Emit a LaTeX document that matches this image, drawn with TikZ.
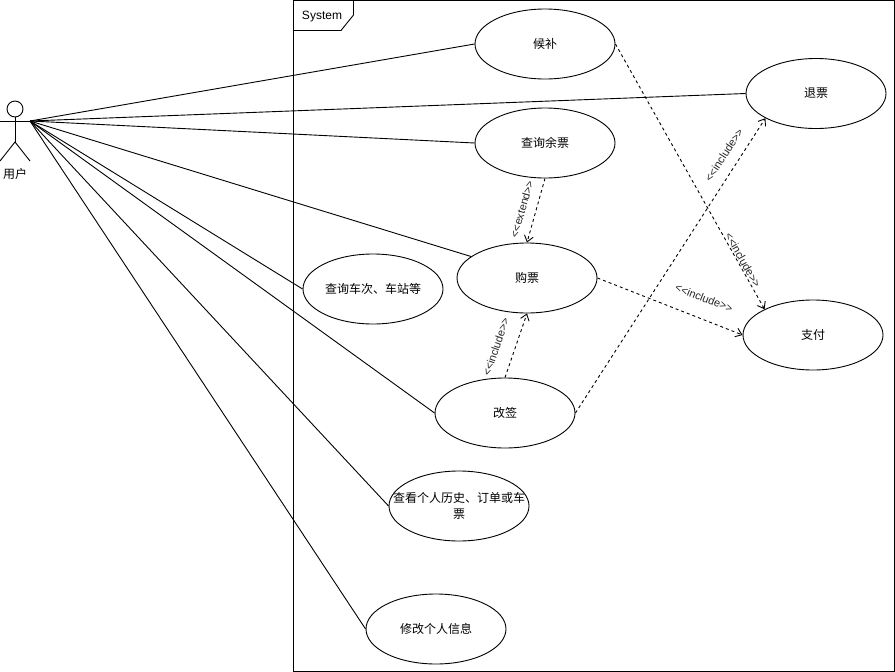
\documentclass[tikz,border=0pt]{standalone}
\usepackage{fontspec}
\setmainfont{Liberation Sans}
\newfontfamily\cjk{Noto Sans CJK SC}
\usetikzlibrary{shapes.geometric,arrows.meta}
\newcommand{\stereo}[1]{<\kern0pt<#1>\kern0pt>}
\tikzset{
  usecase/.style={draw=black,fill=white,ellipse,minimum width=140pt,minimum height=70pt,inner sep=0pt,align=center,line width=0.9pt,font=\fontsize{12}{16}\selectfont\cjk},
  assoc/.style={draw=black,line width=0.9pt},
  dep/.style={draw=black,line width=0.9pt,dash pattern=on 3pt off 3pt,-{Straight Barb[length=6pt,width=9pt]}},
  stereolabel/.style={font=\fontsize{11}{13}\selectfont,text=black!85,inner sep=0pt},
  actorline/.style={draw=black,line width=0.9pt},
}
\begin{document}
\begin{tikzpicture}[x=1pt,y=-1pt]
\useasboundingbox (0,0) rectangle (895,672);
\fill[white] (0,0) rectangle (895,672);
% system frame
\draw[actorline] (293.5,0.5) -- (894.5,0.5) -- (894.5,671.5) -- (293.5,671.5) -- cycle;
\draw[actorline] (353.5,0.5) -- (353.5,15) -- (341,30.5) -- (293.5,30.5);
\node[font=\fontsize{12}{14}\selectfont,inner sep=0pt] (systitle) at (322,16.5) {System};
% actor
\draw[actorline] (15,109) circle (8);
\draw[actorline] (15,117) -- (15,142);
\draw[actorline] (0,121.5) -- (30,121.5);
\draw[actorline] (0,161) -- (15,142) -- (30,161);
\coordinate (actor) at (30,121);
\node[font=\fontsize{12}{14}\selectfont\cjk,inner sep=0pt] (actorname) at (15,174) {用户};
% use cases
\node[usecase] (houbu) at (545,44) {候补};
\node[usecase] (tuipiao) at (816,93.5) {退票};
\node[usecase] (yupiao) at (545,143) {查询余票};
\node[usecase] (goupiao) at (527,278) {购票};
\node[usecase] (checi) at (373,289) {查询车次、车站等};
\node[usecase] (gaiqian) at (505,413) {改签};
\node[usecase] (zhifu) at (813,335) {支付};
\node[usecase] (lishi) at (459,506) {\makebox[50pt][c]{查看个人历史、订单或车}\\票};
\node[usecase] (xinxi) at (436,629) {修改个人信息};
% associations
\draw[assoc] (actor) -- (houbu.west);
\draw[assoc] (actor) -- (tuipiao.west);
\draw[assoc] (actor) -- (yupiao.west);
\draw[assoc] (actor) -- (goupiao.159);
\draw[assoc] (actor) -- (checi.west);
\draw[assoc] (actor) -- (gaiqian.west);
\draw[assoc] (actor) -- (lishi.west);
\draw[assoc] (actor) -- (xinxi.west);
% dependencies
\draw[dep] (houbu.east) -- (zhifu.152);
\draw[dep] (goupiao.east) -- (zhifu.west);
\draw[dep] (gaiqian.east) -- (tuipiao.206);
\draw[dep] (yupiao.south) -- (goupiao.north);
\draw[dep] (gaiqian.north) -- (goupiao.south);
% labels
\node[stereolabel,rotate=74] (l1) at (522,209) {\stereo{extend}};
\node[stereolabel,rotate=71] (l2) at (496,347) {\stereo{include}};
\node[stereolabel,rotate=57] (l3) at (724,155) {\stereo{include}};
\node[stereolabel,rotate=-60.6] (l4) at (743,260) {\stereo{include}};
\node[stereolabel,rotate=-21.3] (l5) at (704,298) {\stereo{include}};
\end{tikzpicture}
\end{document}
